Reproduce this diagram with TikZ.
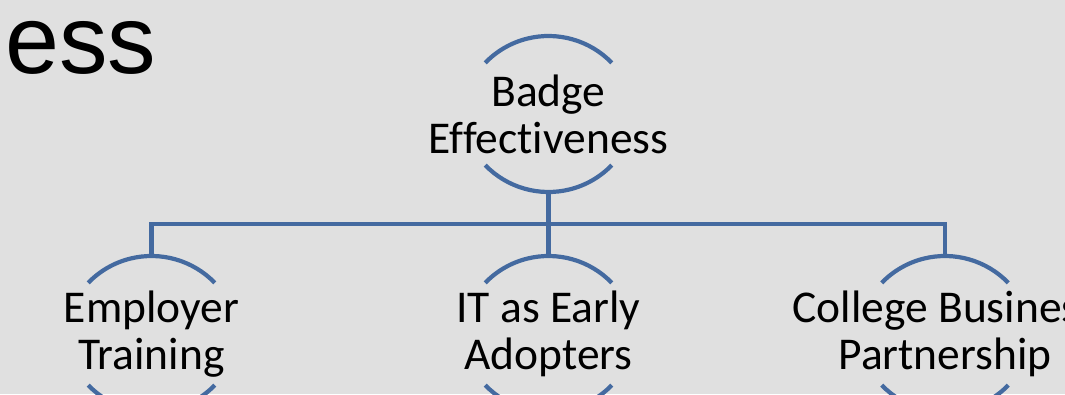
\documentclass[tikz,border=0pt]{standalone}
\usepackage{fontspec}
\setmainfont{Carlito}[Ligatures=NoCommon]
\newfontfamily\headfont{Liberation Sans}

\definecolor{slidegray}{RGB}{224,224,224}
\definecolor{arcblue}{RGB}{68,106,160}

\tikzset{
  bubble/.style={inner sep=0pt,align=center,
    font=\fontsize{45.5}{47}\selectfont},
  link/.style={draw=arcblue,line width=4.2pt},
}

\begin{document}
\begin{tikzpicture}[x=1pt,y=1pt]
        % slide background
        \fill[slidegray] (0,0) rectangle (1065,394);
        \clip (0,0) rectangle (1065,394);

        % title text cut at the slide edge
        \node[anchor=base west,inner sep=0pt,font=\headfont\fontsize{97}{102}\selectfont] (title) at (5,320) {ess};

        % top node
        \node[bubble] (effect) at (548.5,280) {Badge\\Effectiveness};

        % three child nodes
        \node[bubble] (employer) at (151.5,60) {Employer\\Training};
        \node[bubble] (adopters) at (548.5,60) {IT as Early\\Adopters};
        \node[bubble] (partner) at (945,60) {College Business\\Partnership};

        % arcs above and below each node
        \foreach \n in {effect,employer,adopters,partner} {
            \draw[link] ([yshift=-10pt]\n.center) ++(44:88pt) arc[start angle=44,end angle=136,radius=88pt];
            \draw[link] ([yshift=10pt]\n.center) ++(224:88pt) arc[start angle=224,end angle=316,radius=88pt];
        }

        % connecting lines
        \coordinate (bus) at ([yshift=-110pt]effect.center);
        \draw[link] ([yshift=-78pt]effect.center) -- ([yshift=78pt]adopters.center);
        \draw[link] ([yshift=78pt]employer.center) |- (bus) -| ([yshift=78pt]partner.center);
\end{tikzpicture}
\end{document}
